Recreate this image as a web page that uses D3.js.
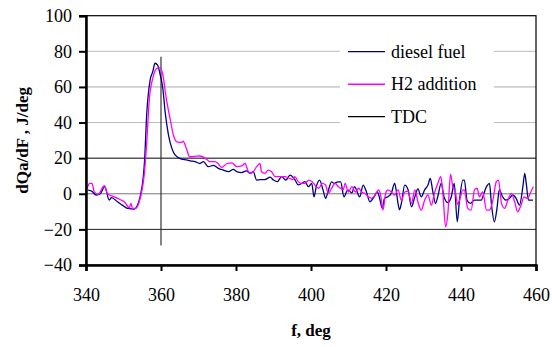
<!DOCTYPE html>
<html>
<head>
<meta charset="utf-8">
<script src="https://cdn.jsdelivr.net/npm/d3@7"></script>
<style>
  body { margin: 0; background: #fff; font-family: 'Liberation Serif', serif; }
  svg text { font-family: 'Liberation Serif', serif !important; }
</style>
</head>
<body>
<svg id="chart" width="552" height="347" font-family="Liberation Serif"></svg>
<script>
// crank angle (deg) / heat release rate (J/deg)
const dieselAngle = [340.5, 341.5, 342.7, 343.8, 345, 346.2, 346.8, 348.4, 349.8, 351.1, 352.9, 353.6, 354.5, 355.3, 355.6, 356.2, 357.1, 357.8, 358.4, 359.1, 359.8, 360.5, 361.1, 362, 362.9, 363.8, 365.5, 366.8, 367.8, 369.1, 370.4, 371.3, 372.6, 374, 375.3, 376.6, 378, 379.3, 380.2, 381.5, 382.8, 383.7, 384.6, 385.5, 386.4, 387.7, 389.1, 390, 391, 392.2, 393.3, 394.4, 395.7, 396.6, 397.5, 398.4, 399.3, 400.2, 400.8, 401.4, 402.3, 403.2, 403.9, 404.5, 405.5, 406.2, 407.2, 407.9, 408.8, 409.8, 410.9, 411.6, 413, 413.9, 414.8, 415.7, 416.8, 417.7, 418.3, 419, 419.6, 420.5, 421.4, 422.3, 422.7, 423.2, 423.6, 424.1, 425, 425.9, 426.8, 427.7, 428.5, 429.4, 430.3, 431.2, 431.8, 432.5, 433.2, 433.8, 434.7, 435.5, 436.5, 437.4, 438.2, 439, 439.6, 440.5, 440.9, 441.6, 442.5, 443.6, 444.5, 445.4, 446.1, 446.8, 447.6, 448.1, 448.9, 449.6, 450.2, 451.1, 452, 452.9, 453.8, 454.7, 455.6, 456.5, 457, 457.4, 458, 459.2];
const dieselHR = [2, 1.5, -0.7, 0, 4, -3.5, -2.2, -4.5, -6.5, -8.2, -8.6, -7, -1, 10, 18, 45, 63.9, 68.5, 73.3, 72.3, 66.7, 59, 46, 33, 25.5, 21.7, 19.5, 19, 18.5, 18, 17, 18, 15.2, 16, 14.3, 13.3, 12.4, 13.7, 12.4, 11.9, 12.9, 11.5, 12.4, 7.7, 8, 8, 9.3, 7.7, 6.8, 9.6, 7.7, 10.5, 8, 5, 5.8, 6.8, 4, 5.8, -1.7, 4, 7.7, 2.2, -2.6, 1, 6.7, 5.8, 6.7, 6.7, -1.7, 2.2, 0.5, 4, -1.7, 4.9, 1, -4.5, -1.7, 1.1, -2.5, -8.2, -2.6, -1.7, 0.2, 5.8, 2.2, -5.4, -9, -5.4, 4.9, 2.2, -7.3, -1.7, 2.7, -1.7, 2.2, 4.9, 8.6, 1, -5.4, -1.7, 5.8, -2, -5, -1.7, 5.8, -15.7, -3.6, 7.7, 7.7, -3.6, -5.4, -3.6, -3.6, -3.6, 0.2, 4, 5.8, -5.4, -15.7, -8.2, 2.2, -1.7, -3.6, -2.6, -0.7, -2.6, -6.4, 4, 11.5, 5.8, -3.6, -3.6];

const h2Angle = [340.3, 341, 341.6, 342.2, 343.2, 344.9, 345.7, 347.5, 349.3, 350.2, 351.1, 351.5, 352, 352.4, 353.3, 354.2, 355.1, 355.6, 356.2, 356.9, 357.8, 358.9, 359.8, 360.5, 361.4, 362.4, 363.3, 364.2, 365.5, 365.9, 366.9, 367.6, 369.1, 370.4, 372.2, 373, 374.4, 375.2, 376.2, 377.6, 378.9, 380.2, 381.5, 382.4, 383.3, 383.9, 384.6, 385.5, 386.4, 386.8, 387.7, 388.6, 389.5, 390.4, 391.7, 393, 394.4, 395.2, 395.7, 396.6, 397.5, 398.4, 399.4, 400.3, 401.4, 402.1, 403, 403.9, 404.6, 405.5, 406.4, 407.3, 408.6, 409.1, 410, 410.9, 411.8, 412.7, 413.5, 414.4, 415.3, 416.2, 417.1, 418, 418.5, 419.2, 419.9, 420.5, 421.4, 422.3, 423.2, 424.1, 425, 425.9, 426.8, 427.7, 428.5, 429.4, 430.3, 431.2, 432.1, 432.9, 433.8, 434.6, 435.1, 435.9, 436.5, 437.2, 437.8, 438.5, 439.1, 439.6, 440.5, 440.9, 441.8, 442.7, 443.6, 444.3, 444.9, 445.8, 446.8, 447.6, 448.5, 449.4, 450, 450.8, 451.6, 452.5, 453.4, 454.3, 455.1, 456, 456.8, 457.7, 458.6, 459.3];
const h2HR = [3, 5.8, 5.8, 1.1, -0.3, 4.5, 0, -1.7, -3.5, -4.5, -7, -8, -5.4, -8.2, -8.2, -4.5, 4, 12, 29, 53.6, 64.8, 70.4, 70.8, 66.7, 53.6, 42.4, 33, 29.2, 28.9, 29.5, 24.6, 20.8, 21, 21.2, 19.3, 18, 18, 17, 14.8, 17, 17.4, 15.2, 15.6, 17, 12.4, 11.5, 12.4, 15.2, 17, 12.4, 11.5, 13.3, 12.4, 9.6, 9.6, 9.6, 8.6, 8, 9.6, 6.8, 5.8, 5.8, 7.7, 6.8, 4, 3.1, 5.8, 4.9, 0.2, 3.1, 5.8, 4, 2.2, 5.8, 1, 4, 1, 3.1, 1, 0.2, -1.7, -2.6, -0.7, 2.2, 0, -9.2, 0.2, 2.2, 1, -0.7, 2.2, -3.6, 1, 1.5, -5.4, 2.2, -4.5, -9.2, -3.6, -0.7, -6.4, 0.2, 5.8, 9.6, 2.2, -18.5, -11, 11, 4, 1, -6, -3.6, 2.2, 2, -8.2, -9.2, 2.2, 3.1, -1.7, 1, -9.2, -9.2, -3.6, 6.7, 7.7, -5.4, -8.2, -3.6, 0.2, -4.5, -10.1, -6.4, -1.7, -2.6, 1, 4];

const tdcAngle = [360, 360];
const tdcHR = [-29, 77];

const xTicks = [340, 360, 380, 400, 420, 440, 460];
const yTicks = [-40, -20, 0, 20, 40, 60, 80, 100];
const gridValues = [-20, 0, 20, 40, 60, 80];
const seriesNames = ['diesel fuel', 'H2 addition', 'TDC'];

const svg = d3.select('#chart');
const plotLeft = 86, plotRight = 536, plotTop = 15.7, plotBottom = 265;

const x = d3.scaleLinear().domain([340, 460]).range([plotLeft, plotRight]);
const y = d3.scaleLinear().domain([-40, 100]).range([plotBottom, plotTop]);

// gridlines (the scan renders them in different shades)
const gridColor = {'-20': '#222', '0': '#777', '20': '#000', '40': '#bbb', '60': '#aaa', '80': '#bbb'};
svg.append('g')
    .selectAll('line')
    .data(gridValues)
    .join('line')
    .attr('x1', plotLeft).attr('x2', plotRight)
    .attr('y1', d => y(d)).attr('y2', d => y(d))
    .attr('stroke', d => gridColor[d])
    .attr('stroke-width', 1);

// frame
svg.append('rect')
    .attr('x', plotLeft).attr('y', plotTop)
    .attr('width', plotRight - plotLeft).attr('height', plotBottom - plotTop)
    .attr('fill', 'none')
    .attr('stroke', '#000')
    .attr('stroke-width', 1.2);

// legend box hides the gridlines behind it
svg.append('rect')
    .attr('x', 340).attr('y', 30)
    .attr('width', 154).attr('height', 102)
    .attr('fill', '#fff');

const line = d3.line()
    .x(d => x(d[0]))
    .y(d => y(d[1]))
    .curve(d3.curveMonotoneX);

svg.append('path')
    .datum(tdcAngle.map((a, i) => [a, tdcHR[i]]))
    .attr('d', d3.line().x(d => x(d[0])).y(d => y(d[1])))
    .attr('stroke', '#333')
    .attr('stroke-width', 1.2)
    .attr('fill', 'none');

svg.append('path')
    .datum(dieselAngle.map((a, i) => [a, dieselHR[i]]))
    .attr('d', line)
    .attr('stroke', '#000080')
    .attr('stroke-width', 1.3)
    .attr('fill', 'none');

svg.append('path')
    .datum(h2Angle.map((a, i) => [a, h2HR[i]]))
    .attr('d', line)
    .attr('stroke', '#ff00ff')
    .attr('stroke-width', 1.3)
    .attr('fill', 'none');

// axes
const yAxis = svg.append('g')
    .attr('transform', `translate(${plotLeft},0)`)
    .call(d3.axisLeft(y).tickValues(yTicks).tickSize(7).tickPadding(7));
const xAxis = svg.append('g')
    .attr('transform', `translate(0,${plotBottom})`)
    .call(d3.axisBottom(x).tickValues(xTicks).tickSize(6).tickPadding(17));

[yAxis, xAxis].forEach(g => {
    g.attr('font-family', null).attr('font-size', 18);
    g.select('.domain').attr('stroke', '#000').attr('stroke-width', 2.5);
    g.selectAll('.tick line').attr('stroke', '#000').attr('stroke-width', 2);
    g.selectAll('.tick text').attr('fill', '#000');
});

// axis titles
svg.append('text')
    .attr('transform', `translate(28,${(plotTop + plotBottom) / 2}) rotate(-90)`)
    .attr('text-anchor', 'middle')
    .attr('font-size', 17)
    .attr('font-weight', 'bold')
    .text('dQa/dF , J/deg');

svg.append('text')
    .attr('x', (plotLeft + plotRight) / 2)
    .attr('y', 336)
    .attr('text-anchor', 'middle')
    .attr('font-size', 17)
    .attr('font-weight', 'bold')
    .text('f, deg');

// legend
const legendColors = ['#000080', '#ff00ff', '#000'];
const legend = svg.append('g')
    .selectAll('g')
    .data(seriesNames)
    .join('g')
    .attr('transform', (d, i) => `translate(348,${51.7 + i * 32.5})`);

legend.append('line')
    .attr('x1', 0).attr('x2', 37)
    .attr('stroke', (d, i) => legendColors[i])
    .attr('stroke-width', (d, i) => i === 1 ? 1.6 : 1.2);

legend.append('text')
    .attr('x', 43)
    .attr('y', 6)
    .attr('font-size', 18)
    .text(d => d);
</script>
</body>
</html>
